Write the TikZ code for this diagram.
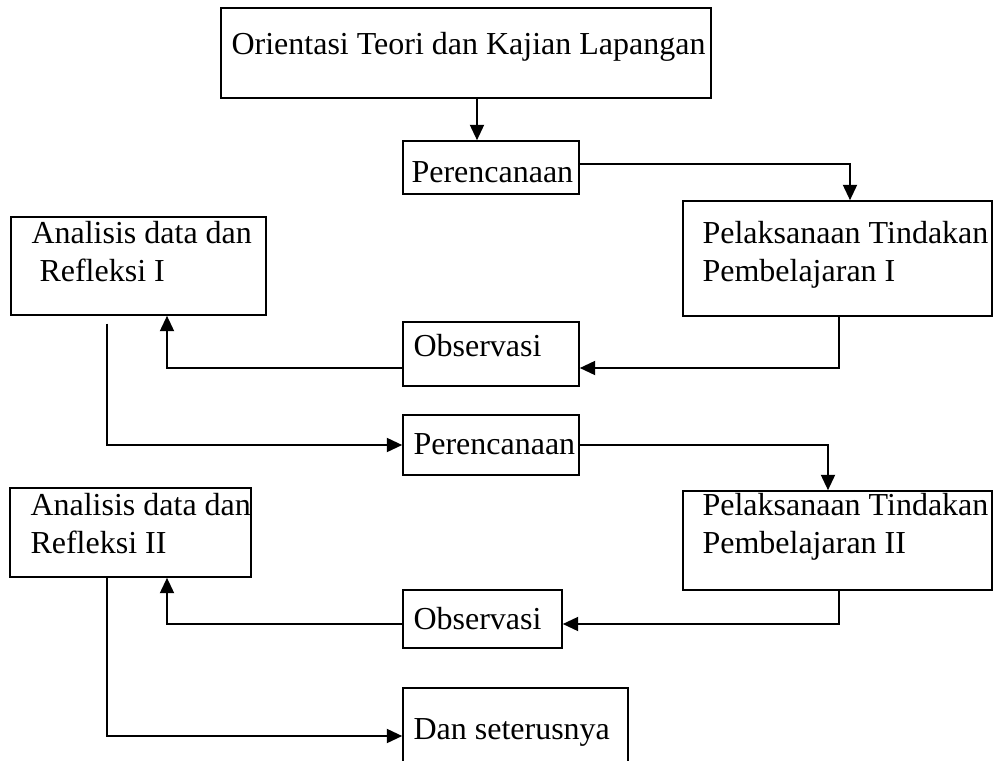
\documentclass[tikz,border=0pt]{standalone}
\usepackage{fontspec}
\setmainfont{Liberation Serif}
\usetikzlibrary{arrows.meta}
\usetikzlibrary{fit}

\tikzset{
  kotak/.style={draw, line width=0.55pt, inner sep=0pt},
  teks/.style={anchor=base west, inner sep=0pt, align=left, font=\fontsize{12}{14.25}\selectfont},
  panah/.style={->, line width=0.9pt}
}

\begin{document}
\begin{tikzpicture}[x=0.375pt, y=-0.375pt, >={Triangle[length=5.8pt,width=5.2pt]}]
\useasboundingbox (0,0) rectangle (994,761);
\clip (0,0) rectangle (994,761);
\node [kotak, fit={(221,8) (711,98)}] (orient) {};
\node [kotak, fit={(403,141) (579,194)}] (plan1) {};
\node [kotak, fit={(683,201) (992,316)}] (exec1) {};
\node [kotak, fit={(11,217) (266,315)}] (ana1) {};
\node [kotak, fit={(403,322) (579,386)}] (obs1) {};
\node [kotak, fit={(403,415) (579,475)}] (plan2) {};
\node [kotak, fit={(10,488) (251,577)}] (ana2) {};
\node [kotak, fit={(683,491) (992,590)}] (exec2) {};
\node [kotak, fit={(403,590) (562,648)}] (obs2) {};
\node [kotak, fit={(403,688) (628,800)}] (lanjut) {};

\node [teks] (orient-t) at (231,54) {Orientasi Teori dan Kajian Lapangan};
\node [teks] (plan1-t) at (411,182) {Perencanaan};
\node [teks] (exec1-t) at (702,281) {Pelaksanaan Tindakan\\Pembelajaran I};
\node [teks] (ana1-t) at (31,281) {Analisis data dan\\~Refleksi I};
\node [teks] (obs1-t) at (413,356) {Observasi};
\node [teks] (plan2-t) at (413,454) {Perencanaan};
\node [teks] (ana2-t) at (30,553) {Analisis data dan\\Refleksi II};
\node [teks] (exec2-t) at (702,553) {Pelaksanaan Tindakan\\Pembelajaran II};
\node [teks] (obs2-t) at (413,629) {Observasi};
\node [teks] (lanjut-t) at (413,739) {Dan seterusnya};

\coordinate (b0) at (477,120);
\coordinate (b1) at (850,164);
\coordinate (b2) at (839,368);
\coordinate (b3) at (167,368);
\coordinate (b4) at (107,445);
\coordinate (b5) at (828,445);
\coordinate (b6) at (839,624);
\coordinate (b7) at (167,624);
\coordinate (b8) at (107,736);

\draw [panah] (b0 |- orient.south) -- (b0 |- plan1.north);
\draw [panah] (plan1.east |- b1) -- (b1) -- (b1 |- exec1.north);
\draw [panah] (b2 |- exec1.south) -- (b2) -- (b2 -| obs1.east);
\draw [panah] (b3 -| obs1.west) -- (b3) -- (b3 |- ana1.south);
\draw [panah] ([yshift=-3pt]b4 |- ana1.south) -- (b4) -- (b4 -| plan2.west);
\draw [panah] (plan2.east |- b5) -- (b5) -- (b5 |- exec2.north);
\draw [panah] (b6 |- exec2.south) -- (b6) -- (b6 -| obs2.east);
\draw [panah] (b7 -| obs2.west) -- (b7) -- (b7 |- ana2.south);
\draw [panah] (b8 |- ana2.south) -- (b8) -- (b8 -| lanjut.west);
\end{tikzpicture}
\end{document}
